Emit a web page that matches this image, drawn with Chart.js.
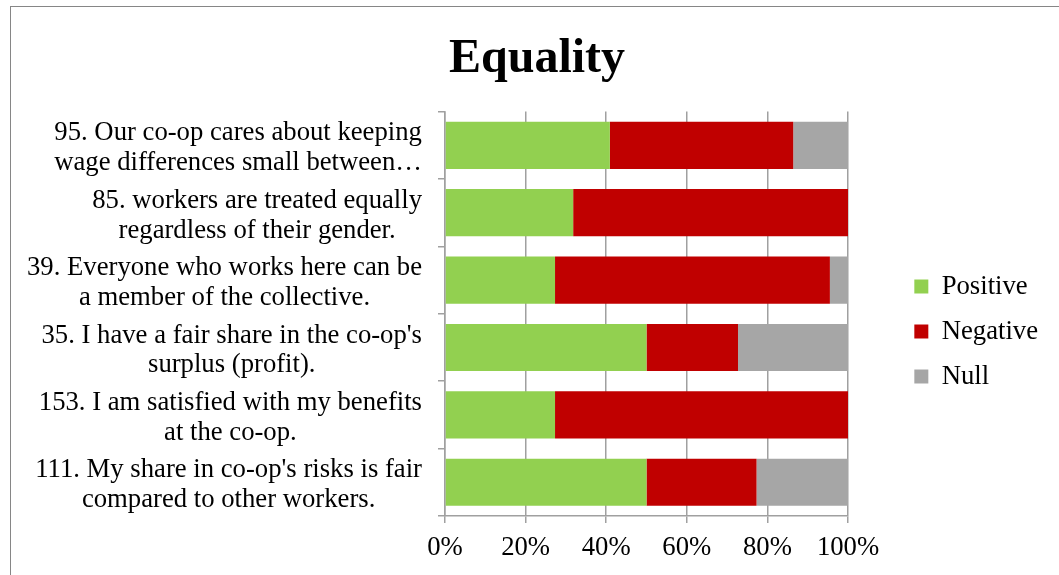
<!DOCTYPE html>
<html>
<head>
<meta charset="utf-8">
<title>Equality</title>
<script src="https://cdn.jsdelivr.net/npm/chart.js@4/dist/chart.umd.min.js"></script>
<style>
  html, body { margin: 0; padding: 0; background: #fff; }
  #wrap { position: relative; width: 1059px; height: 575px; overflow: hidden; }
  #frame {
    position: absolute; left: 10px; top: 6px; right: -2px; bottom: -2px;
    border-top: 1px solid #868686; border-left: 1px solid #868686;
    pointer-events: none;
  }
  canvas { position: absolute; left: 0; top: 0; }
</style>
</head>
<body>
<div id="wrap">
  <canvas id="chartEquality" width="1059" height="575"></canvas>
  <div id="frame"></div>
</div>
<script>
// Preguntas (cada una en dos líneas)
const categories = [
  ['95. Our co-op cares about keeping', 'wage differences small between…'],
  ['85. workers are treated equally', 'regardless of their gender.'],
  ['39. Everyone who works here can be', 'a member of the collective.'],
  ["35. I have a fair share in the co-op's", 'surplus (profit).'],
  ['153. I am satisfied with my benefits', 'at the co-op.'],
  ["111. My share in co-op's risks is fair", 'compared to other workers.']
];

// Porcentaje de respuestas por pregunta
const positive = [40.9, 31.8, 27.3, 50.0, 27.3, 50.0];
const negative = [45.5, 68.2, 68.2, 22.7, 72.7, 27.3];
const nulls    = [13.6, 0.0, 4.5, 27.3, 0.0, 22.7];

const xTicks = [0, 20, 40, 60, 80, 100];

const serif = "'Liberation Serif', 'Times New Roman', serif";
const gridGray = '#a0a0a0';

Chart.defaults.font.family = serif;
Chart.defaults.font.size = 26.7;
Chart.defaults.color = '#000';

// la leyenda ocupa más ancho (hueco con el gráfico) y se coloca a la derecha
const LEGEND_EXTRA = 59;
const legendShift = {
  id: 'legendShift',
  afterInit(chart) {
    const lg = chart.legend;
    const fit = lg.fit;
    lg.fit = function () {
      fit.call(this);
      this.width += LEGEND_EXTRA;
    };
  },
  afterLayout(chart) {
    const lg = chart.legend;
    const dx = LEGEND_EXTRA - 11;
    const dy = 45;
    lg.left += dx;
    lg.top += dy; lg.bottom += dy;
  }
};

// centra cada línea de la etiqueta dentro de su propio bloque
function centerLabelLines(scale) {
  if (scale._linesCentered) return;
  const base = scale._computeLabelItems.bind(scale);
  scale._computeLabelItems = function (area) {
    const items = base(area);
    const ctx = this.ctx;
    items.forEach(item => {
      const o = item.options || item;
      ctx.save();
      ctx.font = item.font.string;
      const w = Math.max(...[].concat(item.label).map(s => ctx.measureText(s).width));
      ctx.restore();
      o.textAlign = 'center';
      o.translation = [o.translation[0] - w / 2, o.translation[1] + 3];
    });
    return items;
  };
  scale._linesCentered = true;
}

const ctx = document.getElementById('chartEquality').getContext('2d');

const chartEquality = new Chart(ctx, {
  type: 'bar',
  data: {
    labels: categories,
    datasets: [
      { label: 'Positive', data: positive, backgroundColor: '#92d050' },
      { label: 'Negative', data: negative, backgroundColor: '#c00000' },
      { label: 'Null', data: nulls, backgroundColor: '#a6a6a6' }
    ]
  },
  options: {
    indexAxis: 'y',
    responsive: false,
    animation: false,
    devicePixelRatio: 1,
    barPercentage: 0.7,
    categoryPercentage: 1.0,
    layout: {
      padding: { left: 15, top: 0, right: 0, bottom: 2 }
    },
    scales: {
      x: {
        stacked: true,
        min: 0,
        max: 100,
        afterBuildTicks(scale) {
          scale.ticks = xTicks.map(v => ({ value: v }));
        },
        ticks: {
          padding: 9,
          callback: v => v + '%'
        },
        grid: {
          color: gridGray,
          lineWidth: 1.5,
          tickLength: 7
        },
        border: { color: gridGray, width: 1.5 }
      },
      y: {
        stacked: true,
        afterFit(scale) {
          scale.width = 430;
          centerLabelLines(scale);
        },
        ticks: {
          padding: 16,
          font: { lineHeight: 1.12 }
        },
        grid: {
          offset: true,
          drawOnChartArea: false,
          color: gridGray,
          lineWidth: 1.5,
          tickLength: 7
        },
        border: { color: gridGray, width: 1.5 }
      }
    },
    plugins: {
      title: {
        display: true,
        text: 'Equality',
        font: { size: 48, weight: 'bold' },
        padding: { top: 31, bottom: 23 }
      },
      legend: {
        position: 'right',
        labels: {
          boxWidth: 14,
          boxHeight: 14,
          padding: 18.3,
          color: '#000'
        }
      },
      tooltip: { enabled: false }
    }
  },
  plugins: [legendShift]
});
</script>
</body>
</html>
